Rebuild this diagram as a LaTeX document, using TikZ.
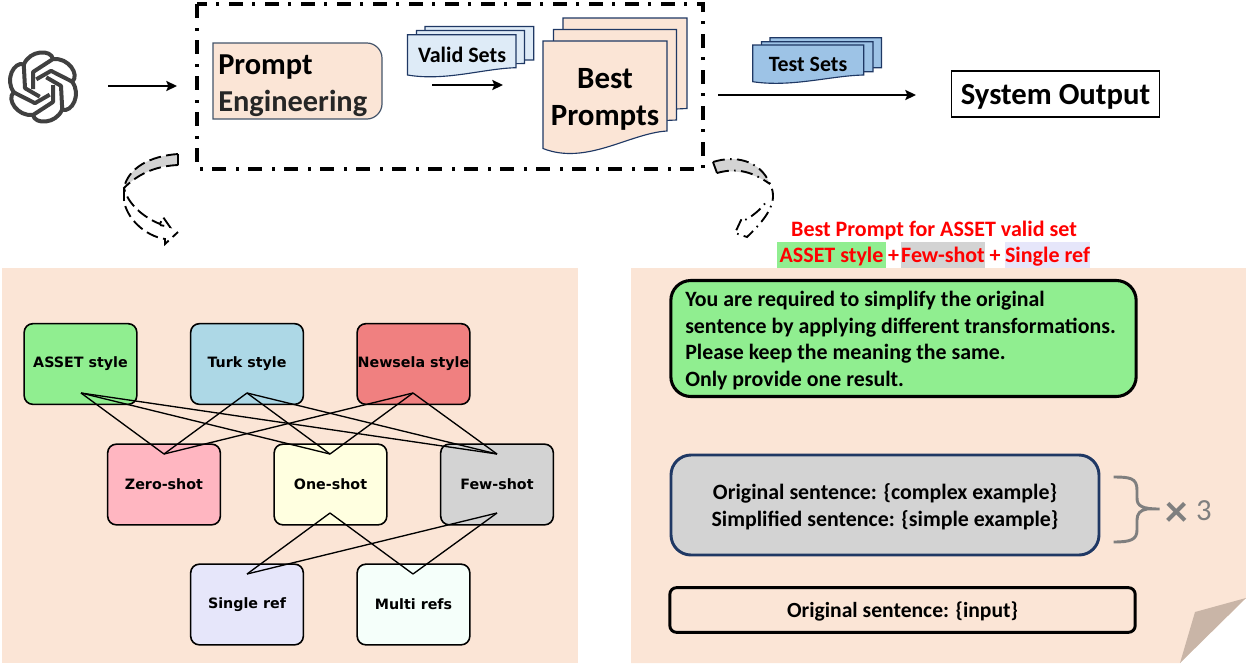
\documentclass[tikz,border=0pt]{standalone}
\usepackage{fontspec}
\setmainfont{Carlito}
\newfontfamily\dejav{DejaVu Sans}
\usetikzlibrary{arrows.meta}
\definecolor{panel}{HTML}{FBE5D6}
\definecolor{foldc}{HTML}{C9B5A7}
\definecolor{slate}{HTML}{44546A}
\definecolor{navy}{HTML}{1F3864}
\definecolor{vfill}{HTML}{DEEBF7}
\definecolor{tfill}{HTML}{9DC3E6}
\definecolor{lgreen}{HTML}{90EE90}
\definecolor{lgray}{HTML}{D3D3D3}
\definecolor{lav}{HTML}{E6E6FA}
\definecolor{lblue}{HTML}{ADD8E6}
\definecolor{lcoral}{HTML}{F08080}
\definecolor{lpink}{HTML}{FFB6C1}
\definecolor{lyellow}{HTML}{FFFFE0}
\definecolor{mint}{HTML}{F5FFFA}
\definecolor{bracec}{HTML}{7F7F7F}
\newcommand{\fsz}[1]{\fontsize{#1}{#1}\selectfont}
\newcommand{\docshape}[6]{% x0 x1 ytop yleftbottom yrightbottom fill
  \filldraw[docline,fill=#6] (#1,#3) -- (#2,#3) -- (#2,#5)
    .. controls ({#2-0.30*(#2-#1)},{#5+0.02*(#4-#3)}) and ({#1+0.35*(#2-#1)},{#4+0.16*(#4-#3)}) .. (#1,#4) -- cycle;}
\tikzset{
  x=0.75pt,y=-0.75pt,
  graphbox/.style={draw=black,line width=1.2pt,rounded corners=6.5pt,minimum width=84.5pt,minimum height=60.5pt,inner sep=0pt,text=black,font=\dejav\bfseries\fsz{10.7}},
  edge/.style={draw=black,line width=1pt},
  docline/.style={draw=navy,line width=0.85pt},
  flow/.style={draw=black,line width=2.1pt,-{Stealth[length=8pt,width=7.5pt,inset=1.5pt]}},
  dashbox/.style={draw=black,line width=2.6pt,dash pattern=on 10.5pt off 7.5pt on 2pt off 7pt},
  bendA/.style={draw=black,line width=1.4pt,dash pattern=on 9pt off 4pt},
  bendB/.style={draw=black,line width=1.4pt,dash pattern=on 9pt off 4pt on 1.2pt off 4pt},
  rowbg/.style={inner sep=0pt,minimum height=20pt,text height=12.5pt,text depth=2pt,text=red,font=\bfseries\fsz{16.5}},
  tall/.style={inner sep=0pt,font=\bfseries\fsz{23.2},align=center,text=black},
}
\begin{document}
\begin{tikzpicture}
\useasboundingbox (0,0) rectangle (1246,668);
% panels
\fill[panel] (2,268) rectangle (578,663);
\fill[panel] (631,268) -- (1246,268) -- (1246,598) -- (1180,663) -- (631,663) -- cycle;
\fill[foldc] (1246,598) -- (1195,612) -- (1180,663) -- cycle;
% logo
\node[inner sep=0pt,minimum size=52pt] (logo) at (43,87) {};
\begin{scope}[shift={(logo.center)},x=0.75pt,y=0.75pt]
\foreach \a in {0,60,...,300}{
  \draw[rotate=\a,draw=black!75,line width=3pt,line join=round]
    (-10,-2) -- (-10,15) -- (10,28) .. controls (8,38) and (-13,37) .. (-19,22.8);
}
\end{scope}
% top flow
\coordinate (inA) at (108,86);
\coordinate (inB) at (177,86);
\draw[flow] (inA) -- (inB);
\coordinate (dA) at (197,4);
\coordinate (dB) at (703,169);
\draw[dashbox] (dA) rectangle (dB);
% prompt engineering
\filldraw[draw=slate,line width=0.9pt,fill=panel] (213,43) -- (367,43) .. controls (375,43) and (382,50) .. (382,58) -- (382,104) .. controls (382,112) and (375,119) .. (367,119) -- (213,119) -- cycle;
\node[anchor=west,inner sep=0pt,font=\bfseries\fsz{22.8},text=black] (pe1) at (218,67) {Prompt};
\node[anchor=west,inner sep=0pt,font=\bfseries\fsz{22.8},text=black!85] (pe2) at (218,103) {Engineering};
% valid sets
\docshape{425}{533.7}{26.5}{50}{60}{vfill}
\docshape{416.5}{524.5}{30.5}{60}{63.5}{vfill}
\docshape{407.5}{516}{34.7}{75}{67.7}{vfill}
\node[tall,font=\bfseries\fsz{16.5}] (vs) at (462,55) {Valid Sets};
\coordinate (vA) at (432,85);
\coordinate (vB) at (503,85);
\draw[flow] (vA) -- (vB);
% best prompts
\docshape{563}{687}{18}{100}{108.5}{panel}
\docshape{553.5}{676.5}{29.5}{110}{120}{panel}
\docshape{543}{667}{41}{148.5}{131}{panel}
\node[tall] (bp) at (605,99) {Best\\[4.5pt]Prompts};
% test sets
\docshape{770}{881.5}{37.7}{60}{67.7}{tfill}
\docshape{761.5}{873}{41.7}{65}{71.7}{tfill}
\docshape{752.7}{863.7}{45}{81.7}{75}{tfill}
\node[tall,font=\bfseries\fsz{16.4}] (ts) at (808,64) {Test Sets};
\node[draw=black,line width=0.9pt,fill=white,minimum width=155.5pt,minimum height=34.5pt,inner sep=0pt,text height=16pt,text depth=0pt,font=\bfseries\fsz{23},text=black] (out) at (1055.5,94) {System Output};
\coordinate (tA) at (718,95);
\coordinate (tB) at (916,95);
\draw[flow] (tA) -- (tB);
% left curved arrow
\coordinate (la1) at (178,154);
\coordinate (la2) at (124,188);
\fill[lgray] (la1) .. controls (150,156) and (128,168) .. (la2) .. controls (140,172) and (158,166) .. (178,165) -- cycle;
\draw[bendA] (la1) .. controls (150,156) and (128,168) .. (la2) -- (124,200) .. controls (126,218) and (145,236) .. (165,239) -- (165,244) -- (178,232) (178,165) -- (la1) (178,165) .. controls (158,166) and (140,172) .. (la2) .. controls (128,205) and (145,218) .. (160,224) -- (163,217) -- (170,227) -- (160,225);
% right curved arrow
\coordinate (ra1) at (713,162);
\coordinate (ra2) at (770,184);
\fill[lgray] (ra1) .. controls (735,155) and (760,160) .. (ra2) .. controls (758,175) and (735,168) .. (717,173) -- cycle;
\draw[bendB] (ra1) .. controls (735,155) and (760,160) .. (ra2) .. controls (778,200) and (770,215) .. (747,237) -- (735,233) -- (742,218) -- (745,220) .. controls (755,215) and (765,205) .. (767,200);
\draw[bendB] (717,173) .. controls (735,168) and (750,170) .. (ra2);
\draw[bendB] (ra1) -- (717,173);
% red header
\node[rowbg,minimum height=0pt] (hd) at (934,229) {Best Prompt for ASSET valid set};
\node[rowbg,fill=lgreen,minimum width=81.5pt] (h1) at (831.5,255) {ASSET style};
\node[rowbg,fill=lgray,minimum width=63pt] (h2) at (943,255) {Few-shot};
\node[rowbg,fill=lav,minimum width=64pt] (h3) at (1047.5,255) {Single ref};
\node[rowbg,minimum height=0pt] (p1) at (893.5,255) {+};
\node[rowbg,minimum height=0pt] (p2) at (995,255) {+};
% graph
\node[graphbox,fill=lgreen] (a) at (80.5,364) {ASSET style};
\node[graphbox,fill=lblue] (b) at (247,364) {Turk style};
\node[graphbox,fill=lcoral] (c) at (413.5,364) {Newsela style};
\node[graphbox,fill=lpink] (d) at (164,484.5) {Zero-shot};
\node[graphbox,fill=lyellow] (e) at (330.5,484.5) {One-shot};
\node[graphbox,fill=lgray] (f) at (497,484.5) {Few-shot};
\node[graphbox,fill=lav] (g) at (247,604.5) {Single ref};
\node[graphbox,fill=mint] (h) at (413.5,604.5) {Multi refs};
\foreach \n/\nx/\ny in {a/81/393,b/247/393,c/413/393,e/330/513,f/497/513}{\coordinate (\n S) at (\nx,\ny);}
\foreach \n/\nx/\ny in {d/164/454,e/330/454,f/497/454,g/247/574,h/413/574}{\coordinate (\n N) at (\nx,\ny);}
\foreach \p/\q in {a/d,a/e,a/f,b/d,b/e,b/f,c/d,c/e,c/f,e/g,e/h,f/g,f/h}{\draw[edge] (\p S) -- (\q N);}
% prompt boxes
\node[draw=black,line width=2.3pt,rounded corners=15pt,fill=lgreen,minimum width=349pt,minimum height=87pt,inner sep=0pt] (pg) at (903.5,338.5) {};
\node[anchor=west,inner sep=0pt,align=left,font=\bfseries\fsz{16.4},text=black] (pgt) at (685,340.5) {You are required to simplify the original\\[3.5pt]sentence by applying different transformations.\\[3.5pt]Please keep the meaning the same.\\[3.5pt]Only provide one result.};
\node[draw=navy,line width=2.2pt,rounded corners=15pt,fill=lgray,minimum width=321pt,minimum height=75pt,inner sep=0pt] (pe) at (885,505) {};
\node[inner sep=0pt,align=center,font=\bfseries\fsz{16.4},text=black] (pet) at (885,507) {Original sentence: \{complex example\}\\[3.6pt]Simplified sentence: \{simple example\}};
\node[draw=black,line width=2.2pt,rounded corners=5pt,minimum width=349pt,minimum height=33.5pt,inner sep=0pt,text height=11.5pt,text depth=1pt,font=\bfseries\fsz{16.2},text=black] (pi) at (902.5,610) {Original sentence: \{input\}};
% brace
\coordinate (brT) at (1113.5,477);
\coordinate (brB) at (1113.5,542);
\coordinate (brM) at (1159.5,509);
\draw[draw=bracec,line width=2.2pt] (brT) .. controls (1130,477) and (1137,478) .. (1137,490) -- (1137,498) .. controls (1137,506) and (1142,509) .. (brM) -- (1147,509) .. controls (1140,510) and (1137,514) .. (1137,520) -- (1137,530) .. controls (1137,540) and (1130,542) .. (brB);
\node[inner sep=0pt,font=\bfseries\fsz{34},text=bracec] (times) at (1177,514) {×};
\node[inner sep=0pt,font=\fsz{23},text=bracec] (three) at (1204,511) {3};
\end{tikzpicture}
\end{document}
